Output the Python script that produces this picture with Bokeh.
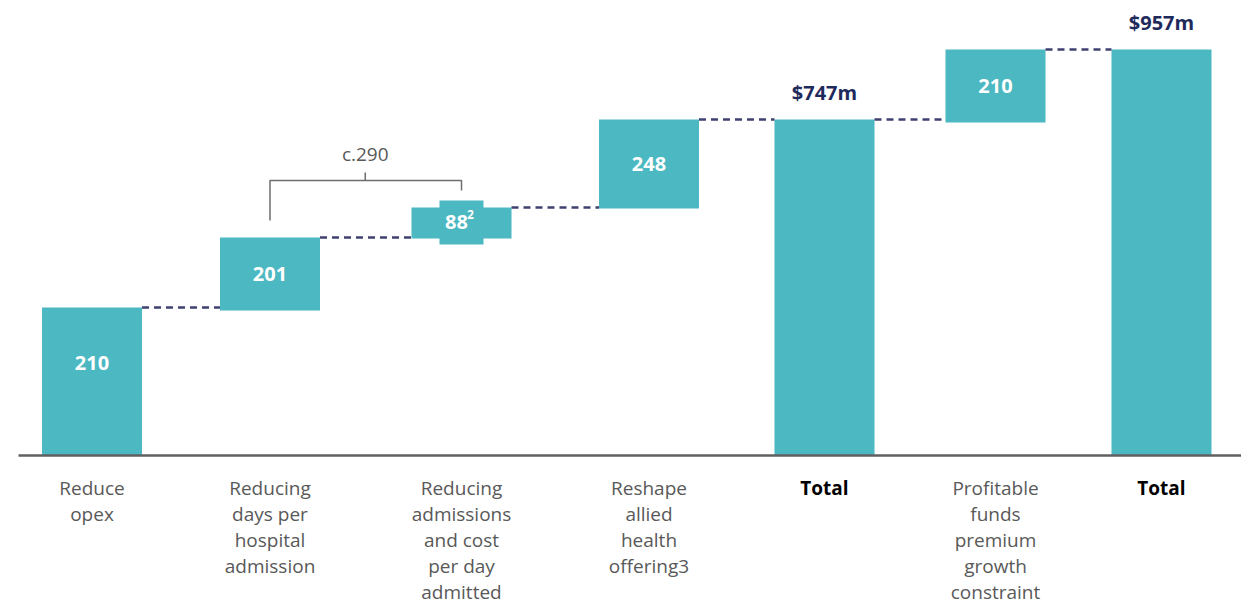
from bokeh.plotting import figure
from bokeh.models import Range1d, ColumnDataSource
from bokeh.core.properties import value
from bokeh.embed import file_html
from bokeh.resources import INLINE

# ---- data ----
categories = ["Reduce\nopex", "Reducing\ndays per\nhospital\nadmission",
              "Reducing\nadmissions\nand cost\nper day\nadmitted",
              "Reshape\nallied\nhealth\noffering3", "Total",
              "Profitable\nfunds\npremium\ngrowth\nconstraint", "Total"]
is_total = [False, False, False, False, True, False, True]
values = [210, 201, 88, 248, 747, 210, 957]
value_labels = ["210", "201", "88", "248", "$747m", "210", "$957m"]
# drawn levels of each bar (chart is not to scale)
shown_bottom = [0, 145, 217, 247, 0, 333, 0]
shown_top = [148, 218, 248, 336, 336, 406, 406]
bracket_label = "c.290"

# ---- layout ----
x_pos = [91.5, 269.5, 461, 648.5, 824, 995, 1161]
bar_w = 100
W, H = 1241, 603
BASE = 455
FONT = value("Open Sans")
TEAL = "#4BB8C2"
NAVY = "#1F2A5C"
GREY = "#595959"

p = figure(width=W, height=H, output_backend="svg", toolbar_location=None,
           x_range=Range1d(0, W), y_range=Range1d(BASE - H, BASE),
           min_border=0, outline_line_color=None)
p.axis.visible = False
p.grid.visible = False

left = [x - bar_w / 2 for x in x_pos]
right = [x + bar_w / 2 for x in x_pos]
src = ColumnDataSource(dict(left=left, right=right, bottom=shown_bottom, top=shown_top))
p.quad(left="left", right="right", bottom="bottom", top="top", source=src,
       fill_color=TEAL, line_color=None)

# notch on the small bar
i3 = 2
p.quad(left=[x_pos[i3] - 22], right=[x_pos[i3] + 22],
       bottom=[shown_bottom[i3] - 6], top=[shown_top[i3] + 7],
       fill_color=TEAL, line_color=None)

# connectors
cx0 = [right[i] for i in range(len(x_pos) - 1)]
cx1 = [left[i + 1] for i in range(len(x_pos) - 1)]
cy = [shown_top[i] for i in range(len(x_pos) - 1)]
p.segment(x0=cx0, x1=cx1, y0=cy, y1=cy, line_color="#3F4270",
          line_width=2.5, line_dash="7 5")

# baseline
p.segment(x0=[18], x1=[W], y0=[0], y1=[0], line_color="#606060", line_width=2.5)

# value labels
for i, (lab, tot) in enumerate(zip(value_labels, is_total)):
    if tot:
        p.text(x=[x_pos[i]], y=[shown_top[i] + 27], text=[lab], text_font=FONT,
               text_font_style="bold", text_font_size="20px", text_color=NAVY,
               text_align="center", text_baseline="middle")
    elif i == i3:
        p.text(x=[x_pos[i] - 5], y=[BASE - 221], text=[lab], text_font=FONT,
               text_font_style="bold", text_font_size="20px", text_color="white",
               text_align="center", text_baseline="middle")
        p.text(x=[x_pos[i] + 9], y=[BASE - 214], text=["2"], text_font=FONT,
               text_font_style="bold", text_font_size="12px", text_color="white",
               text_align="center", text_baseline="middle")
    else:
        mid = (shown_bottom[i] + shown_top[i]) / 2
        y = max(mid, shown_top[i] - 55)
        p.text(x=[x_pos[i]], y=[y], text=[lab], text_font=FONT,
               text_font_style="bold", text_font_size="20px", text_color="white",
               text_align="center", text_baseline="middle")

# category labels
for i, (cat, tot) in enumerate(zip(categories, is_total)):
    p.text(x=[x_pos[i]], y=[-19], text=[cat], text_font=FONT,
           text_font_style="bold" if tot else "normal", text_font_size="19px",
           text_color="black" if tot else GREY, text_align="center",
           text_baseline="top", text_line_height=1.0)

# bracket
by = BASE - 180
p.line(x=[x_pos[1], x_pos[1], x_pos[2], x_pos[2]], y=[BASE - 220, by, by, BASE - 190],
       line_color="#6D6D6D", line_width=1.5)
mx = (x_pos[1] + x_pos[2]) / 2 - 0.5
p.segment(x0=[mx], x1=[mx], y0=[by], y1=[by + 8], line_color="#6D6D6D", line_width=1.5)
p.text(x=[mx], y=[BASE - 153], text=[bracket_label], text_font=FONT,
       text_font_size="19px", text_color="#595959", text_align="center",
       text_baseline="middle")

open("out.html", "w").write(file_html(p, INLINE))
